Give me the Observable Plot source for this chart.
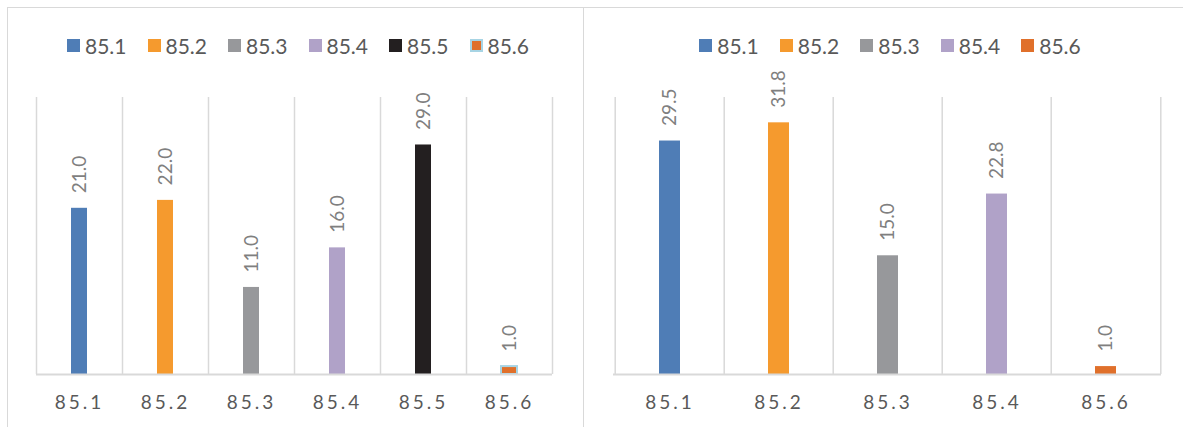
<!DOCTYPE html>
<html>
<head>
<meta charset="utf-8">
<script src="https://cdn.jsdelivr.net/npm/d3@7"></script>
<script src="https://cdn.jsdelivr.net/npm/@observablehq/plot@0.6"></script>
<style>
  body { margin: 0; background: #fff; font-family: Lato, "Open Sans", sans-serif; }
  #page { position: relative; width: 1183px; height: 427px; overflow: hidden; background: #fff; }
  .panel { position: absolute; top: 7px; height: 460px; border: 1px solid #d9d9d9; box-sizing: border-box; }
  .legend { position: absolute; top: 35px; height: 20px; display: flex; justify-content: center; align-items: center; gap: 21px; color: #595959; font-size: 21px; }
  .legend .item { display: flex; align-items: center; gap: 5px; }
  .legend .sw { width: 13px; height: 13px; box-sizing: border-box; }
  .chart { position: absolute; top: 65px; }
  .chart svg { overflow: visible; }
  .chart g[aria-label="x-axis tick label"] text,
  .chart g[aria-label="x-axis"] text { letter-spacing: 3px; }
</style>
</head>
<body>
<div id="page">
  <div class="panel" style="left:7px;width:577px"></div>
  <div class="panel" style="left:583px;width:700px"></div>
  <div class="legend" id="legendLeft" style="left:40px;width:516px"></div>
  <div class="legend" id="legendRight" style="left:616px;width:548px"></div>
  <div class="chart" id="chartLeft" style="left:0px"></div>
  <div class="chart" id="chartRight" style="left:583px"></div>
</div>
<script>
// Section 85 sub-items, first chart
const leftCategories = ["85.1", "85.2", "85.3", "85.4", "85.5", "85.6"];
const leftValues = [21.0, 22.0, 11.0, 16.0, 29.0, 1.0];

// Section 85 sub-items, second chart (no 85.5)
const rightCategories = ["85.1", "85.2", "85.3", "85.4", "85.6"];
const rightValues = [29.5, 31.8, 15.0, 22.8, 1.0];

// Series colours per category
const colorCategories = ["85.1", "85.2", "85.3", "85.4", "85.5", "85.6"];
const colorValues = ["#4f7db6", "#f59a2e", "#97989b", "#b0a2c8", "#231f20", "#e0702b"];
const outlineColor = "#a7d4e4";

// Shared value axis extent
const yMax = 35;

function colorFor(cat) { return colorValues[colorCategories.indexOf(cat)]; }

function legend(el, cats, outlined) {
  const root = d3.select(el);
  cats.forEach(c => {
    const item = root.append("div").attr("class", "item");
    const sw = item.append("div").attr("class", "sw").style("background", colorFor(c));
    if (outlined.includes(c)) sw.style("border", `2px solid ${outlineColor}`);
    item.append("span").text(c);
  });
}

function chart(cats, vals, outlined, width, marginLeft, marginRight) {
  const data = cats.map((c, i) => ({cat: c, value: vals[i]}));
  const height = 362, marginTop = 32, marginBottom = 53;
  const step = (width - marginLeft - marginRight) / cats.length;
  return Plot.plot({
    width, height, marginLeft, marginRight, marginTop, marginBottom,
    style: {fontFamily: "Lato, 'Open Sans', sans-serif", fontSize: "19px", color: "#595959", background: "transparent"},
    x: {domain: cats, paddingInner: 0.81, paddingOuter: 0.405, tickSize: 0, tickPadding: 21, label: null},
    y: {domain: [0, yMax], axis: null},
    color: {domain: colorCategories, range: colorValues},
    marks: [
      // category separators
      Plot.ruleX(cats, {x: d => d, dx: -step / 2, stroke: "#d9d9d9", strokeWidth: 1.5}),
      Plot.ruleX(cats.slice(-1), {x: d => d, dx: step / 2, stroke: "#d9d9d9", strokeWidth: 1.5}),
      Plot.barY(data, {x: "cat", y: "value", fill: "cat"}),
      Plot.barY(data.filter(d => outlined.includes(d.cat)), {x: "cat", y: "value", fill: "cat", stroke: outlineColor, strokeWidth: 2}),
      Plot.ruleY([0], {stroke: "#d9d9d9", strokeWidth: 2}),
      Plot.text(data, {
        x: "cat", y: "value", text: d => d.value.toFixed(1),
        rotate: -90, textAnchor: "start", dy: -15,
        fill: "#7f7f7f", fontSize: 19
      })
    ]
  });
}

legend("#legendLeft", leftCategories, ["85.6"]);
legend("#legendRight", rightCategories, []);
document.getElementById("chartLeft").append(chart(leftCategories, leftValues, ["85.6"], 583, 36, 31));
document.getElementById("chartRight").append(chart(rightCategories, rightValues, [], 600, 30, 22));
</script>
</body>
</html>
